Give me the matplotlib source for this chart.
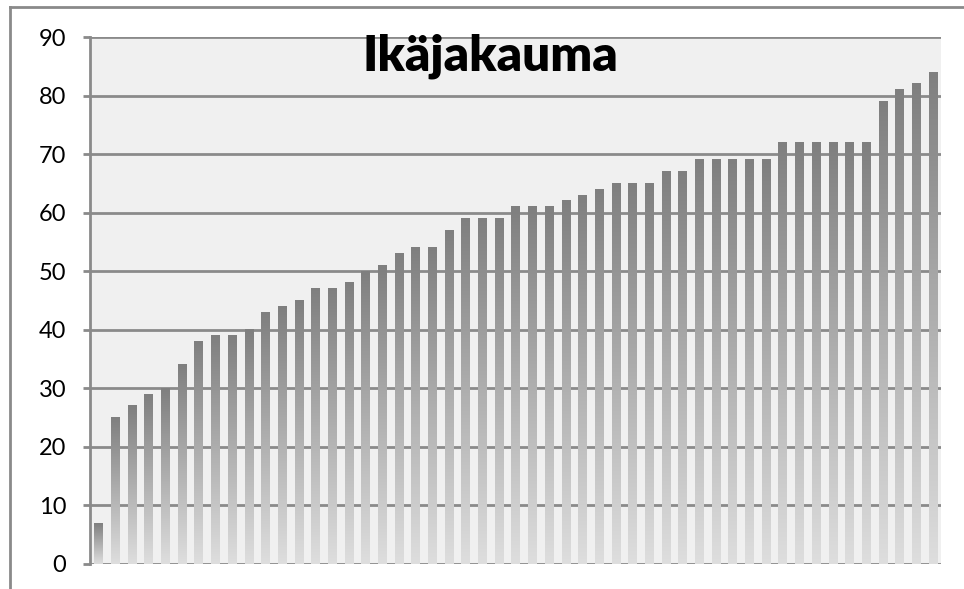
import numpy as np
import matplotlib.pyplot as plt
from matplotlib.lines import Line2D
from matplotlib.colors import LinearSegmentedColormap

plt.rcParams['font.family'] = ['Lato', 'DejaVu Sans']

# Ages sorted in ascending order
ages = [7, 25, 27, 29, 30, 34, 38, 39, 39, 40, 43, 44, 45, 47, 47, 48, 50,
        51, 53, 54, 54, 57, 59, 59, 59, 61, 61, 61, 62, 63, 64, 65, 65, 65,
        67, 67, 69, 69, 69, 69, 69, 72, 72, 72, 72, 72, 72, 79, 81, 82, 84]
yticks = [0, 10, 20, 30, 40, 50, 60, 70, 80, 90]
title = 'Ikäjakauma'

grid_col = '#8a8a8a'
fig = plt.figure(figsize=(9.64, 5.89), dpi=100)
ax = fig.add_axes([90 / 964, 25 / 589, 851 / 964, 527 / 589])
ax.set_facecolor('#f0f0f0')

x = np.arange(len(ages))
bars = ax.bar(x, ages, width=0.48, color='none', zorder=3)

# vertical gradient inside each bar: dark at the top, light at the bottom
cmap = LinearSegmentedColormap.from_list('bar', ['#dedede', '#7f7f7f'])
grad = np.linspace(0, 1, 256).reshape(-1, 1)
for b in bars:
    x0, w, h = b.get_x(), b.get_width(), b.get_height()
    ax.imshow(grad, cmap=cmap, origin='lower', aspect='auto',
              extent=(x0, x0 + w, 0, h), zorder=3, interpolation='bilinear')

ax.set_xlim(-0.5, len(ages) - 0.5)
ax.set_ylim(0, 90)
ax.set_yticks(yticks)
ax.set_xticks([])
ax.yaxis.grid(True, color=grid_col, linewidth=2)
ax.set_axisbelow(True)
ax.tick_params(axis='y', length=5, width=2, color=grid_col, pad=12,
               labelsize=17)
for s in ['top', 'right', 'bottom']:
    ax.spines[s].set_visible(False)
ax.spines['left'].set_color(grid_col)
ax.spines['left'].set_linewidth(2)

fig.text(490 / 964, 1 - 56 / 589, title, ha='center', va='center',
         fontsize=35.5, fontweight='heavy')

# outer frame lines of the chart area
fig.add_artist(Line2D([10 / 964, 10 / 964], [0, 1 - 7 / 589],
                      color=grid_col, linewidth=2))
fig.add_artist(Line2D([10 / 964, 1], [1 - 7 / 589, 1 - 7 / 589],
                      color=grid_col, linewidth=2))

fig.savefig('out.png', dpi=100)
